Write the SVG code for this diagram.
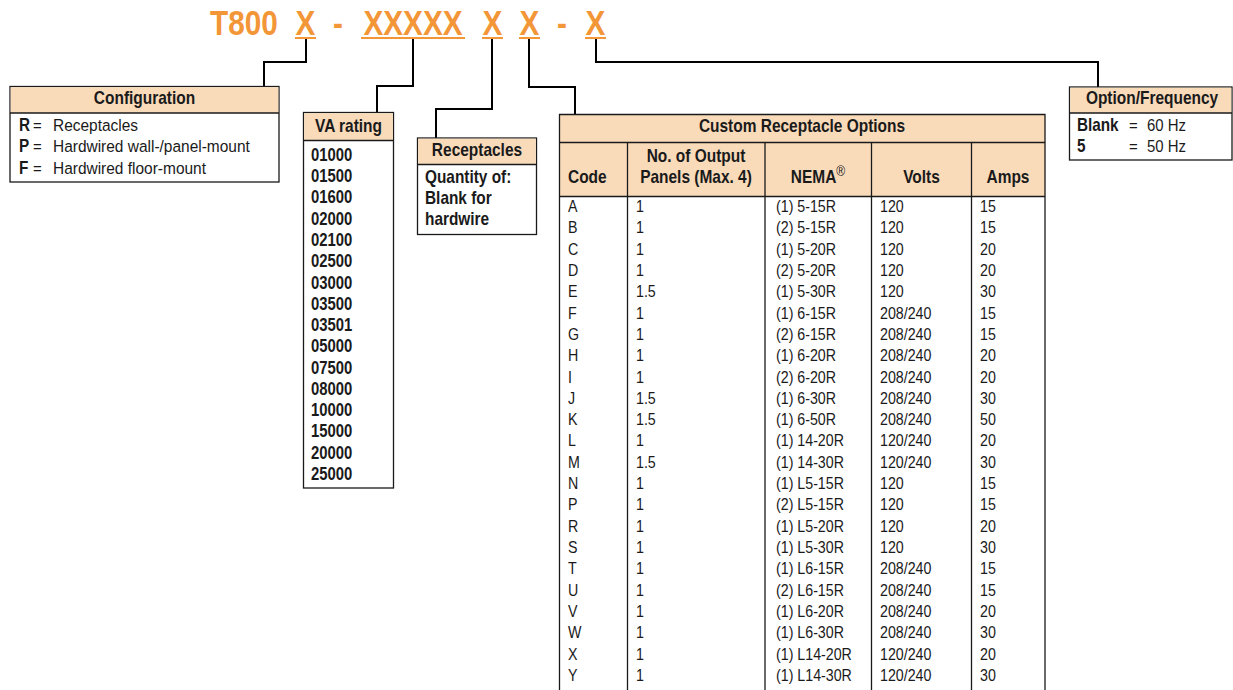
<svg xmlns="http://www.w3.org/2000/svg" width="1233" height="690" viewBox="0 0 1233 690">
<style>
text{font-family:"Liberation Sans",Arial,sans-serif;fill:#1a1a1a;transform-box:fill-box}
.title{font-size:35px;font-weight:bold;fill:#F39637}
.hd{font-size:18px;font-weight:bold}
.bd{font-size:17px}
.bb{font-size:18px;font-weight:bold}
.num{font-size:17.5px;font-weight:bold}
.td{font-size:16px}
.mid{text-anchor:middle}
.s85{transform-origin:0 50%;transform:scaleX(.85)}
.s86{transform-origin:0 50%;transform:scaleX(.86)}
.s88{transform-origin:0 50%;transform:scaleX(.88)}
.s91{transform-origin:0 50%;transform:scaleX(.91)}
.s89{transform-origin:0 50%;transform:scaleX(.89)}
.m86{transform-origin:50% 50%;transform:scaleX(.86)}
.m85{transform-origin:50% 50%;transform:scaleX(.85)}
.box{fill:#fff;stroke:#1a1a1a;stroke-width:1.3}
.hfill{fill:#F9DBBA;stroke:none}
.ln{stroke:#1a1a1a;stroke-width:1.3;fill:none}
.conn{stroke:#000;stroke-width:2;fill:none}
.ul{stroke:#F39637;stroke-width:2}
</style>

<g id="title">
<text class="title s85" x="210" y="35">T800</text>
<text class="title mid m85" x="305.5" y="35">X</text>
<text class="title mid m85" x="338" y="35">-</text>
<text class="title mid m85" x="413" y="35">XXXXX</text>
<text class="title mid m85" x="492.5" y="35">X</text>
<text class="title mid m85" x="529.5" y="35">X</text>
<text class="title mid m85" x="562" y="35">-</text>
<text class="title mid m85" x="595.5" y="35">X</text>
<line class="ul" x1="295" y1="38" x2="316" y2="38"/>
<line class="ul" x1="361" y1="38" x2="465" y2="38"/>
<line class="ul" x1="482" y1="38" x2="503" y2="38"/>
<line class="ul" x1="519" y1="38" x2="540" y2="38"/>
<line class="ul" x1="585" y1="38" x2="606" y2="38"/>
</g>

<g id="connectors">
<polyline class="conn" points="306,39 306,62 264,62 264,87"/>
<polyline class="conn" points="413,39 413,86 377,86 377,113"/>
<polyline class="conn" points="492,39 492,109 436,109 436,138"/>
<polyline class="conn" points="529,39 529,87 575,87 575,115"/>
<polyline class="conn" points="596,39 596,62 1098,62 1098,87"/>
</g>

<g id="configuration">
<rect class="box" x="10" y="86.5" width="269" height="95.5"/>
<rect class="hfill" x="10.7" y="87.2" width="267.6" height="25.8"/>
<line class="ln" x1="10" y1="113" x2="279" y2="113"/>
<text class="hd mid m86" x="144.5" y="104">Configuration</text>
<text class="bb s85" x="19" y="131">R</text><text class="bd s88" x="33" y="131">=</text><text class="bd s91" x="53" y="131">Receptacles</text>
<text class="bb s85" x="19" y="152">P</text><text class="bd s88" x="33" y="152">=</text><text class="bd s91" x="53" y="152">Hardwired wall-/panel-mount</text>
<text class="bb s85" x="19" y="174">F</text><text class="bd s88" x="33" y="174">=</text><text class="bd s91" x="53" y="174">Hardwired floor-mount</text>
</g>

<g id="va-rating">
<rect class="box" x="303.5" y="112.5" width="90" height="375.5"/>
<rect class="hfill" x="304.2" y="113.2" width="88.6" height="27.3"/>
<line class="ln" x1="303.5" y1="140.5" x2="393.5" y2="140.5"/>
<text class="hd mid m86" x="348.5" y="132">VA rating</text>
<text class="num s85" x="311" y="161">01000</text>
<text class="num s85" x="311" y="182.3">01500</text>
<text class="num s85" x="311" y="203.5">01600</text>
<text class="num s85" x="311" y="224.8">02000</text>
<text class="num s85" x="311" y="246.1">02100</text>
<text class="num s85" x="311" y="267.4">02500</text>
<text class="num s85" x="311" y="288.6">03000</text>
<text class="num s85" x="311" y="309.9">03500</text>
<text class="num s85" x="311" y="331.2">03501</text>
<text class="num s85" x="311" y="352.4">05000</text>
<text class="num s85" x="311" y="373.7">07500</text>
<text class="num s85" x="311" y="395">08000</text>
<text class="num s85" x="311" y="416.2">10000</text>
<text class="num s85" x="311" y="437.5">15000</text>
<text class="num s85" x="311" y="458.8">20000</text>
<text class="num s85" x="311" y="480">25000</text>
</g>

<g id="receptacles">
<rect class="box" x="417.5" y="138" width="119" height="96.5"/>
<rect class="hfill" x="418.2" y="138.7" width="117.6" height="25.8"/>
<line class="ln" x1="417.5" y1="164.5" x2="536.5" y2="164.5"/>
<text class="hd mid m86" x="477" y="156">Receptacles</text>
<text class="num s88" x="425" y="183">Quantity of:</text>
<text class="num s88" x="425" y="204">Blank for</text>
<text class="num s88" x="425" y="225">hardwire</text>
</g>

<g id="custom-receptacle-options">
<rect class="hfill" x="559.5" y="114.5" width="485.5" height="82"/>
<polyline class="ln" points="559.5,690 559.5,114.5 1045,114.5 1045,690"/>
<line class="ln" x1="559.5" y1="142.5" x2="1045" y2="142.5"/>
<line class="ln" x1="559.5" y1="196.5" x2="1045" y2="196.5"/>
<line class="ln" x1="627.5" y1="142.5" x2="627.5" y2="690"/>
<line class="ln" x1="765" y1="142.5" x2="765" y2="690"/>
<line class="ln" x1="871.5" y1="142.5" x2="871.5" y2="690"/>
<line class="ln" x1="971.5" y1="142.5" x2="971.5" y2="690"/>
<text class="hd mid m86" x="802" y="132">Custom Receptacle Options</text>
<text class="hd s86" x="568" y="183">Code</text>
<text class="hd mid m86" x="696" y="162">No. of Output</text>
<text class="hd mid m86" x="696" y="183">Panels (Max. 4)</text>
<text class="hd mid m86" x="818" y="183">NEMA<tspan font-weight="normal" font-size="14px" dy="-7">®</tspan></text>
<text class="hd mid m86" x="921.5" y="183">Volts</text>
<text class="hd mid m86" x="1008" y="183">Amps</text>
<g>
<text class="td s89" x="568" y="212">A</text><text class="td s89" x="636" y="212">1</text><text class="td s89" x="776" y="212">(1) 5-15R</text><text class="td s89" x="880" y="212">120</text><text class="td s89" x="980" y="212">15</text>
<text class="td s89" x="568" y="233.3">B</text><text class="td s89" x="636" y="233.3">1</text><text class="td s89" x="776" y="233.3">(2) 5-15R</text><text class="td s89" x="880" y="233.3">120</text><text class="td s89" x="980" y="233.3">15</text>
<text class="td s89" x="568" y="254.6">C</text><text class="td s89" x="636" y="254.6">1</text><text class="td s89" x="776" y="254.6">(1) 5-20R</text><text class="td s89" x="880" y="254.6">120</text><text class="td s89" x="980" y="254.6">20</text>
<text class="td s89" x="568" y="276">D</text><text class="td s89" x="636" y="276">1</text><text class="td s89" x="776" y="276">(2) 5-20R</text><text class="td s89" x="880" y="276">120</text><text class="td s89" x="980" y="276">20</text>
<text class="td s89" x="568" y="297.3">E</text><text class="td s89" x="636" y="297.3">1.5</text><text class="td s89" x="776" y="297.3">(1) 5-30R</text><text class="td s89" x="880" y="297.3">120</text><text class="td s89" x="980" y="297.3">30</text>
<text class="td s89" x="568" y="318.6">F</text><text class="td s89" x="636" y="318.6">1</text><text class="td s89" x="776" y="318.6">(1) 6-15R</text><text class="td s89" x="880" y="318.6">208/240</text><text class="td s89" x="980" y="318.6">15</text>
<text class="td s89" x="568" y="339.9">G</text><text class="td s89" x="636" y="339.9">1</text><text class="td s89" x="776" y="339.9">(2) 6-15R</text><text class="td s89" x="880" y="339.9">208/240</text><text class="td s89" x="980" y="339.9">15</text>
<text class="td s89" x="568" y="361.2">H</text><text class="td s89" x="636" y="361.2">1</text><text class="td s89" x="776" y="361.2">(1) 6-20R</text><text class="td s89" x="880" y="361.2">208/240</text><text class="td s89" x="980" y="361.2">20</text>
<text class="td s89" x="568" y="382.6">I</text><text class="td s89" x="636" y="382.6">1</text><text class="td s89" x="776" y="382.6">(2) 6-20R</text><text class="td s89" x="880" y="382.6">208/240</text><text class="td s89" x="980" y="382.6">20</text>
<text class="td s89" x="568" y="403.9">J</text><text class="td s89" x="636" y="403.9">1.5</text><text class="td s89" x="776" y="403.9">(1) 6-30R</text><text class="td s89" x="880" y="403.9">208/240</text><text class="td s89" x="980" y="403.9">30</text>
<text class="td s89" x="568" y="425.2">K</text><text class="td s89" x="636" y="425.2">1.5</text><text class="td s89" x="776" y="425.2">(1) 6-50R</text><text class="td s89" x="880" y="425.2">208/240</text><text class="td s89" x="980" y="425.2">50</text>
<text class="td s89" x="568" y="446.5">L</text><text class="td s89" x="636" y="446.5">1</text><text class="td s89" x="776" y="446.5">(1) 14-20R</text><text class="td s89" x="880" y="446.5">120/240</text><text class="td s89" x="980" y="446.5">20</text>
<text class="td s89" x="568" y="467.8">M</text><text class="td s89" x="636" y="467.8">1.5</text><text class="td s89" x="776" y="467.8">(1) 14-30R</text><text class="td s89" x="880" y="467.8">120/240</text><text class="td s89" x="980" y="467.8">30</text>
<text class="td s89" x="568" y="489.2">N</text><text class="td s89" x="636" y="489.2">1</text><text class="td s89" x="776" y="489.2">(1) L5-15R</text><text class="td s89" x="880" y="489.2">120</text><text class="td s89" x="980" y="489.2">15</text>
<text class="td s89" x="568" y="510.5">P</text><text class="td s89" x="636" y="510.5">1</text><text class="td s89" x="776" y="510.5">(2) L5-15R</text><text class="td s89" x="880" y="510.5">120</text><text class="td s89" x="980" y="510.5">15</text>
<text class="td s89" x="568" y="531.8">R</text><text class="td s89" x="636" y="531.8">1</text><text class="td s89" x="776" y="531.8">(1) L5-20R</text><text class="td s89" x="880" y="531.8">120</text><text class="td s89" x="980" y="531.8">20</text>
<text class="td s89" x="568" y="553.1">S</text><text class="td s89" x="636" y="553.1">1</text><text class="td s89" x="776" y="553.1">(1) L5-30R</text><text class="td s89" x="880" y="553.1">120</text><text class="td s89" x="980" y="553.1">30</text>
<text class="td s89" x="568" y="574.4">T</text><text class="td s89" x="636" y="574.4">1</text><text class="td s89" x="776" y="574.4">(1) L6-15R</text><text class="td s89" x="880" y="574.4">208/240</text><text class="td s89" x="980" y="574.4">15</text>
<text class="td s89" x="568" y="595.8">U</text><text class="td s89" x="636" y="595.8">1</text><text class="td s89" x="776" y="595.8">(2) L6-15R</text><text class="td s89" x="880" y="595.8">208/240</text><text class="td s89" x="980" y="595.8">15</text>
<text class="td s89" x="568" y="617.1">V</text><text class="td s89" x="636" y="617.1">1</text><text class="td s89" x="776" y="617.1">(1) L6-20R</text><text class="td s89" x="880" y="617.1">208/240</text><text class="td s89" x="980" y="617.1">20</text>
<text class="td s89" x="568" y="638.4">W</text><text class="td s89" x="636" y="638.4">1</text><text class="td s89" x="776" y="638.4">(1) L6-30R</text><text class="td s89" x="880" y="638.4">208/240</text><text class="td s89" x="980" y="638.4">30</text>
<text class="td s89" x="568" y="659.7">X</text><text class="td s89" x="636" y="659.7">1</text><text class="td s89" x="776" y="659.7">(1) L14-20R</text><text class="td s89" x="880" y="659.7">120/240</text><text class="td s89" x="980" y="659.7">20</text>
<text class="td s89" x="568" y="681">Y</text><text class="td s89" x="636" y="681">1</text><text class="td s89" x="776" y="681">(1) L14-30R</text><text class="td s89" x="880" y="681">120/240</text><text class="td s89" x="980" y="681">30</text>
</g>
</g>

<g id="option-frequency">
<rect class="box" x="1069.5" y="87" width="162.5" height="73"/>
<rect class="hfill" x="1070.2" y="87.7" width="161.1" height="25.3"/>
<line class="ln" x1="1069.5" y1="113" x2="1232" y2="113"/>
<text class="hd mid m86" x="1152" y="104">Option/Frequency</text>
<text class="bb s85" x="1077" y="131">Blank</text><text class="bd s88" x="1129" y="131">=</text><text class="bd s88" x="1147" y="131">60 Hz</text>
<text class="bb s85" x="1077" y="152">5</text><text class="bd s88" x="1129" y="152">=</text><text class="bd s88" x="1147" y="152">50 Hz</text>
</g>
</svg>
